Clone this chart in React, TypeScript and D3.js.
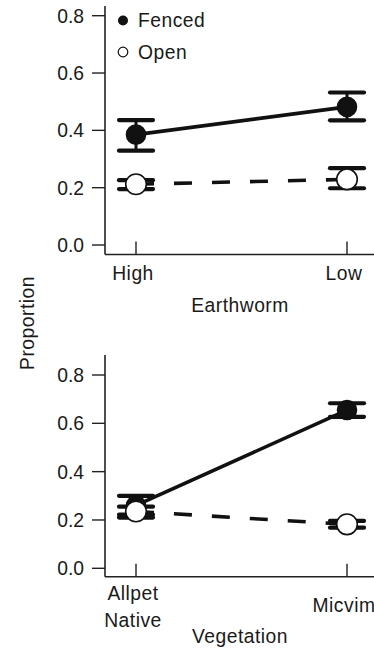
import React from "react";
import * as d3 from "d3";

const treatments = ["Fenced", "Open"];

const earthwormCats = ["High", "Low"];
const earthwormFenced = [0.385, 0.482];
const earthwormFencedLo = [0.329, 0.435];
const earthwormFencedHi = [0.436, 0.532];
const earthwormOpen = [0.212, 0.229];
const earthwormOpenLo = [0.195, 0.198];
const earthwormOpenHi = [0.226, 0.268];

const vegetationCats = ["Allpet\nNative", "Micvim"];
const vegetationFenced = [0.26, 0.655];
const vegetationFencedLo = [0.222, 0.627];
const vegetationFencedHi = [0.3, 0.683];
const vegetationOpen = [0.235, 0.182];
const vegetationOpenLo = [0.21, 0.168];
const vegetationOpenHi = [0.255, 0.196];

const yTicks = [0, 0.2, 0.4, 0.6, 0.8];

const FONT = "'Liberation Sans', Arial, Helvetica, sans-serif";
const FS = 19.3;
const LS = 0.5;

type Series = { mean: number[]; lo: number[]; hi: number[]; open: boolean };

const Panel = ({
  cats,
  series,
  yTop,
  yZero,
  axisTop,
  axisY,
  xTitle,
  titleY,
  labelBaseline,
}: {
  cats: string[];
  series: Series[];
  yTop: number;
  yZero: number;
  axisTop: number;
  axisY: number;
  xTitle: string;
  titleY: number;
  labelBaseline: number[];
}) => {
  const axisX = 105;
  const x = d3.scalePoint(cats, [136, 347]);
  const y = d3.scaleLinear([0, 0.8], [yZero, yTop]);
  const line = d3.line<number>((_d, i) => x(cats[i]) as number, (d) => y(d));
  return (
    <g>
      {/* axes */}
      <line x1={axisX} x2={axisX} y1={axisTop} y2={axisY} stroke="#222" strokeWidth={1.6} />
      <line x1={axisX} x2={374} y1={axisY} y2={axisY} stroke="#222" strokeWidth={1.6} />
      {yTicks.map((t) => (
        <g key={t}>
          <line x1={axisX - 13} x2={axisX} y1={y(t)} y2={y(t)} stroke="#222" strokeWidth={1.4} />
          <text x={84} y={y(t)} dy="0.36em" textAnchor="end" fontSize={FS} fill="#1a1a1a">
            {t.toFixed(1)}
          </text>
        </g>
      ))}
      {cats.map((c, i) => (
        <g key={c}>
          <line x1={x(c)} x2={x(c)} y1={axisY - 13} y2={axisY} stroke="#222" strokeWidth={1.4} />
          <text x={(x(c) as number) - 3} y={labelBaseline[i]} textAnchor="middle" fontSize={FS} fill="#1a1a1a" letterSpacing={LS}>
            {c.split("\n").map((s, k) => (
              <tspan key={k} x={(x(c) as number) - 3} dy={k === 0 ? 0 : 27}>
                {s}
              </tspan>
            ))}
          </text>
        </g>
      ))}
      <text x={240} y={titleY} textAnchor="middle" fontSize={FS} fill="#1a1a1a" letterSpacing={LS}>
        {xTitle}
      </text>
      {/* lines */}
      {series.map((s, k) => (
        <path
          key={"l" + k}
          d={line(s.mean) as string}
          fill="none"
          stroke="#111"
          strokeWidth={3.6}
          strokeDasharray={s.open ? "18 20" : undefined}
        />
      ))}
      {/* error bars */}
      {series.map((s, k) =>
        s.mean.map((_m, i) => {
          const cx = x(cats[i]) as number;
          return (
            <g key={"e" + k + i} stroke="#111">
              <line x1={cx} x2={cx} y1={y(s.lo[i])} y2={y(s.hi[i])} strokeWidth={3} />
              <line x1={cx - 17} x2={cx + 17} y1={y(s.lo[i])} y2={y(s.lo[i])} strokeWidth={4.2} strokeLinecap="round" />
              <line x1={cx - 17} x2={cx + 17} y1={y(s.hi[i])} y2={y(s.hi[i])} strokeWidth={4.2} strokeLinecap="round" />
            </g>
          );
        })
      )}
      {/* points */}
      {series.map((s, k) =>
        s.mean.map((m, i) => (
          <circle
            key={"p" + k + i}
            cx={x(cats[i]) as number}
            cy={y(m)}
            r={s.open ? 10.3 : 9.5}
            fill={s.open ? "#fff" : "#111"}
            stroke="#111"
            strokeWidth={1.6}
          />
        ))
      )}
    </g>
  );
};

const App = () => {
  return (
    <svg
      width={374}
      height={650}
      style={{ position: "absolute", left: 0, top: 0, background: "#fff" }}
      fontFamily={FONT}
    >
      <rect width={374} height={650} fill="#fff" />
      {/* legend */}
      <circle cx={123} cy={20.5} r={5} fill="#111" />
      <text x={138} y={27} fontSize={FS} fill="#1a1a1a" letterSpacing={LS}>
        {treatments[0]}
      </text>
      <circle cx={123} cy={52} r={4.8} fill="#fff" stroke="#111" strokeWidth={1.2} />
      <text x={138} y={58.5} fontSize={FS} fill="#1a1a1a" letterSpacing={LS}>
        {treatments[1]}
      </text>
      <Panel
        cats={earthwormCats}
        series={[
          { mean: earthwormOpen, lo: earthwormOpenLo, hi: earthwormOpenHi, open: true },
          { mean: earthwormFenced, lo: earthwormFencedLo, hi: earthwormFencedHi, open: false },
        ]}
        yTop={15.7}
        yZero={245}
        axisTop={6}
        axisY={254.5}
        xTitle="Earthworm"
        titleY={311.5}
        labelBaseline={[280, 280]}
      />
      <Panel
        cats={vegetationCats}
        series={[
          { mean: vegetationFenced, lo: vegetationFencedLo, hi: vegetationFencedHi, open: false },
          { mean: vegetationOpen, lo: vegetationOpenLo, hi: vegetationOpenHi, open: true },
        ]}
        yTop={375}
        yZero={568.3}
        axisTop={355}
        axisY={576.7}
        xTitle="Vegetation"
        titleY={643}
        labelBaseline={[600, 611.5]}
      />
      <text
        transform="translate(34,323) rotate(-90)"
        textAnchor="middle"
        fontSize={FS}
        fill="#1a1a1a"
        letterSpacing={LS}
      >
        Proportion
      </text>
    </svg>
  );
};

export default App;
